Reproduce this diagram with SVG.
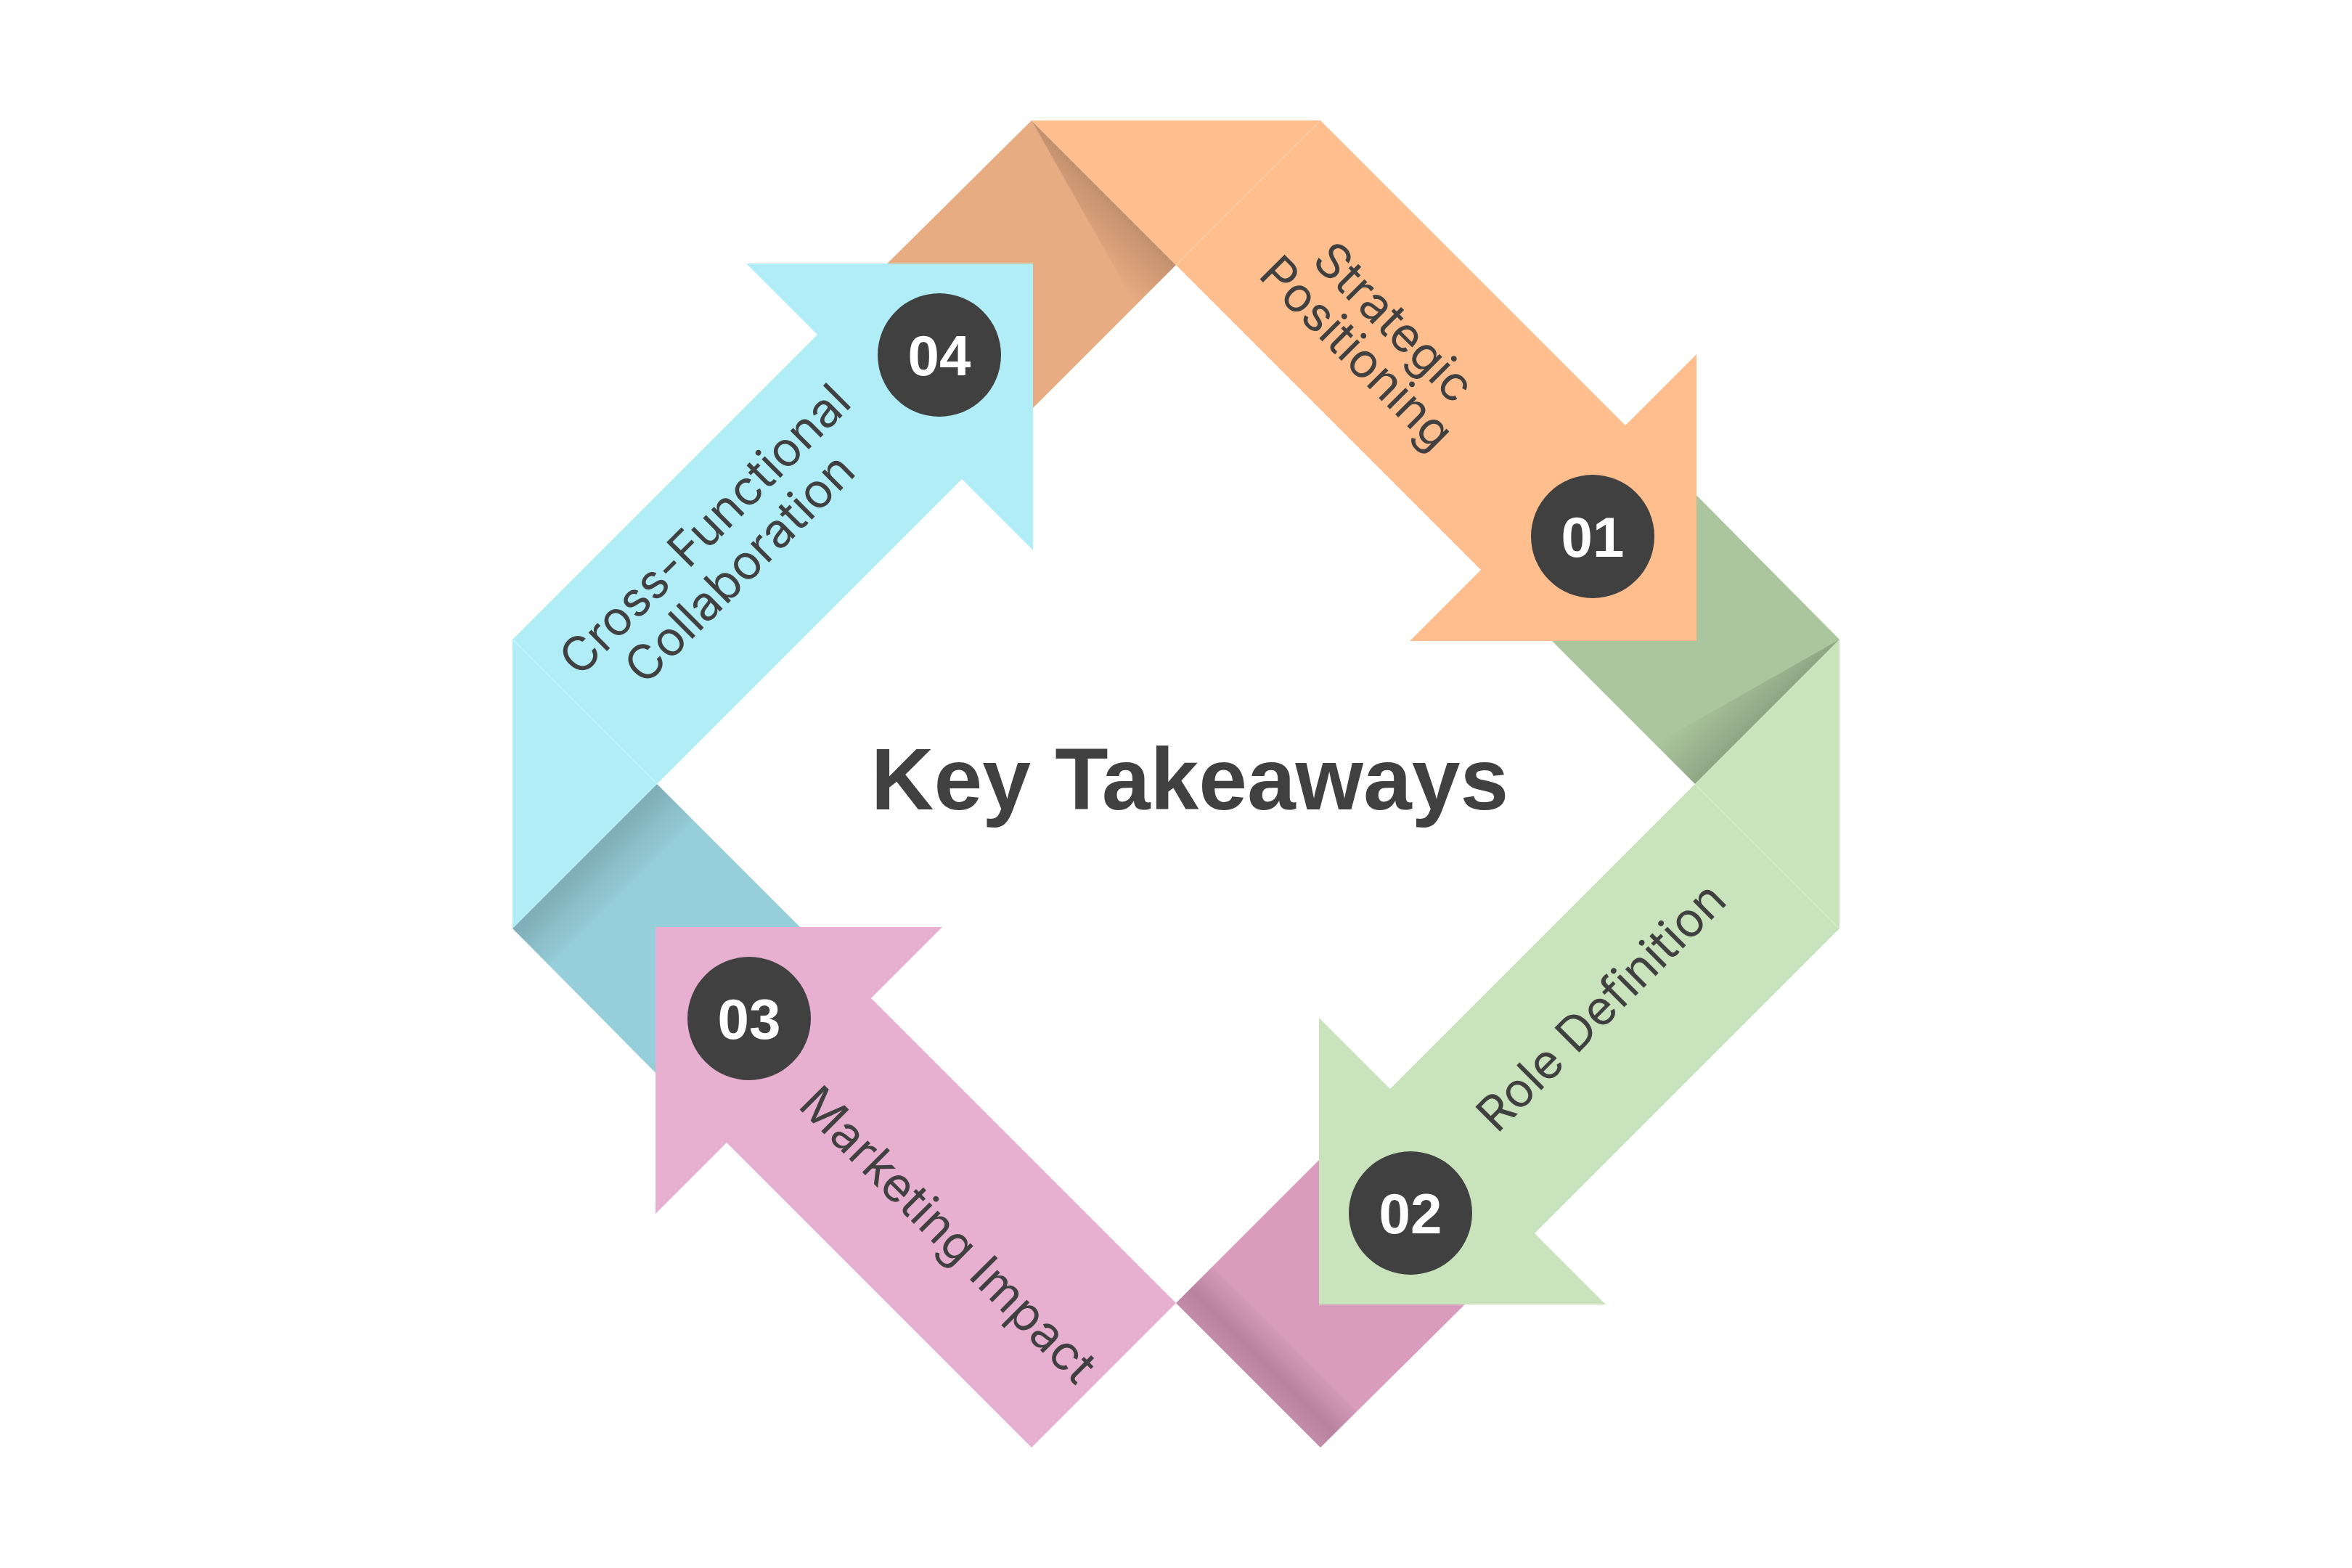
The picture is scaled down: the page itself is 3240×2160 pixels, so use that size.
<svg xmlns="http://www.w3.org/2000/svg" width="3240" height="2160" viewBox="0 0 3240 2160">
  <style>
    .label { font-family: "Inter", "Liberation Sans", sans-serif; font-size: 66px; fill: #404040; text-anchor: middle; dominant-baseline: central; }
    .num { font-family: "Liberation Sans", "Arial", sans-serif; font-size: 78px; font-weight: bold; fill: #ffffff; text-anchor: middle; }
    .badge { fill: #404040; }
    .title { font-family: "Liberation Sans", "Arial", sans-serif; font-size: 120px; font-weight: bold; fill: #404040; text-anchor: middle; }
    .seam { stroke-width: 2; fill: none; }
  </style>
  <defs>
    <linearGradient id="shTop" gradientUnits="userSpaceOnUse" x1="1620" y1="365" x2="1565" y2="420">
      <stop offset="0" stop-color="#000" stop-opacity="0.16"/>
      <stop offset="1" stop-color="#000" stop-opacity="0"/>
    </linearGradient>
    <linearGradient id="shRight" gradientUnits="userSpaceOnUse" x1="2335" y1="1080" x2="2280" y2="1025">
      <stop offset="0" stop-color="#000" stop-opacity="0.16"/>
      <stop offset="1" stop-color="#000" stop-opacity="0"/>
    </linearGradient>
    <linearGradient id="shBottom" gradientUnits="userSpaceOnUse" x1="1620" y1="1795" x2="1675" y2="1740">
      <stop offset="0" stop-color="#000" stop-opacity="0.10"/>
      <stop offset="0.35" stop-color="#000" stop-opacity="0.16"/>
      <stop offset="1" stop-color="#000" stop-opacity="0"/>
    </linearGradient>
    <linearGradient id="shLeft" gradientUnits="userSpaceOnUse" x1="905" y1="1080" x2="960" y2="1135">
      <stop offset="0" stop-color="#000" stop-opacity="0.16"/>
      <stop offset="1" stop-color="#000" stop-opacity="0"/>
    </linearGradient>
  </defs>

  <rect x="0" y="0" width="3240" height="2160" fill="#ffffff"/>

  <g id="connectors">
    <g id="fold-top">
      <polygon points="1421,166 1620,365 1400,585 1200,385" fill="#E8AC83"/>
      <polygon points="1421,166 1620,365 1565,420" fill="url(#shTop)"/>
    </g>
    <g id="fold-right">
      <polygon points="2534,881 2335,1080 2115,860 2315,660" fill="#ABC69E"/>
      <polygon points="2534,881 2335,1080 2280,1025" fill="url(#shRight)"/>
    </g>
    <g id="fold-bottom">
      <polygon points="1620,1795 1819,1994 2040,1775 1840,1575" fill="#D99CBD"/>
      <polygon points="1620,1795 1819,1994 1869,1944 1670,1745" fill="url(#shBottom)"/>
    </g>
    <g id="fold-left">
      <polygon points="905,1080 706,1279 925,1500 1125,1300" fill="#96CED9"/>
      <polygon points="905,1080 706,1279 756,1329 955,1130" fill="url(#shLeft)"/>
    </g>
  </g>

  <g id="node-01">
    <polygon points="1421,166 1819,166 2239,586 2337,488 2337,883 1942,883 2040,785" fill="#FEBE8E"/>
    <line class="seam" x1="1620" y1="365" x2="1819" y2="166" stroke="#FFC9A0"/>
    <circle class="badge" cx="2194" cy="739" r="85"/>
    <text class="num" x="2194" y="767">01</text>
    <text class="label" transform="translate(1921,443) rotate(45)" x="0" y="0">Strategic</text>
    <text class="label" transform="translate(1870,485) rotate(45)" x="0" y="0">Positioning</text>
  </g>

  <g id="node-02">
    <polygon points="2534,881 2534,1279 2114,1699 2212,1797 1817,1797 1817,1402 1915,1500" fill="#C9E4BC"/>
    <line class="seam" x1="2335" y1="1080" x2="2534" y2="1279" stroke="#D3EAC8"/>
    <circle class="badge" cx="1943" cy="1671" r="85"/>
    <text class="num" x="1943" y="1699">02</text>
    <text class="label" transform="translate(2205,1386) rotate(-45)" x="0" y="0">Role Definition</text>
  </g>

  <g id="node-03">
    <polygon points="1421,1994 1620,1795 1200,1375 1298,1277 903,1277 903,1672 1001,1574" fill="#E8B0D0"/>
    <circle class="badge" cx="1032" cy="1403" r="85"/>
    <text class="num" x="1032" y="1431">03</text>
    <text class="label" transform="translate(1307,1700) rotate(45)" x="0" y="0">Marketing Impact</text>
  </g>

  <g id="node-04">
    <polygon points="706,881 706,1279 1325,660 1423,758 1423,363 1028,363 1126,461" fill="#B0EDF7"/>
    <line class="seam" x1="905" y1="1080" x2="706" y2="881" stroke="#BFF2FA"/>
    <circle class="badge" cx="1294" cy="489" r="85"/>
    <text class="num" x="1294" y="517">04</text>
    <text class="label" transform="translate(970,729) rotate(-45)" x="0" y="0">Cross-Functional</text>
    <text class="label" transform="translate(1018,782) rotate(-45)" x="0" y="0">Collaboration</text>
  </g>

  <g id="title">
    <text class="title" x="1639" y="1115">Key Takeaways</text>
  </g>
</svg>
